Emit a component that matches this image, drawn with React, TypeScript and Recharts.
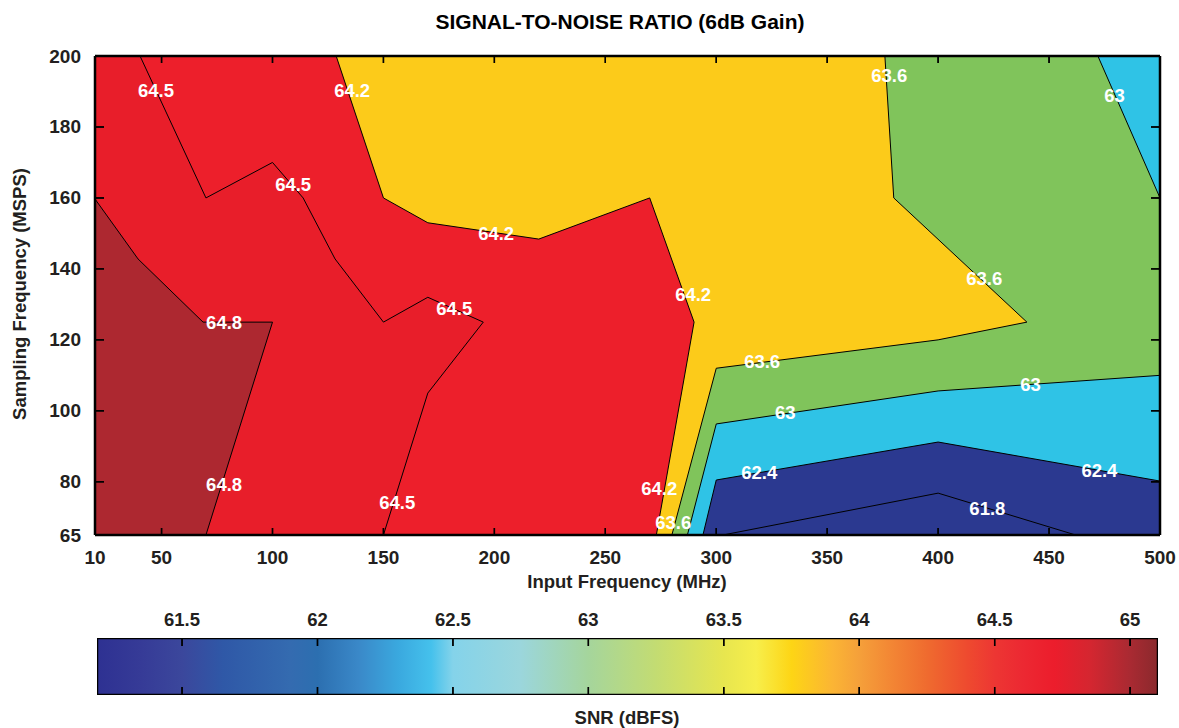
import React from "react";
import { ScatterChart, Scatter, XAxis, YAxis, CartesianGrid } from "recharts";

type Pt = { x: number; y: number };

const FONT = "'Liberation Sans', Arial, Helvetica, sans-serif";
const INK = "#231f20";

// axis ranges (the left edge of the input-frequency scale is labelled 10)
const X_MIN = 20;
const X_MAX = 500;
const Y_MIN = 65;
const Y_MAX = 200;
const xTicks = [20, 50, 100, 150, 200, 250, 300, 350, 400, 450, 500];
const xTickText: Record<number, string> = { 20: "10" };
const yTicks = [65, 80, 100, 120, 140, 160, 180, 200];

// contour lines (MHz, MSPS)
const c648: Pt[] = [
  { x: 20, y: 159.7 }, { x: 39.4, y: 142.8 }, { x: 68.7, y: 125 }, { x: 100, y: 125 }, { x: 70, y: 65 },
];
const c645: Pt[] = [
  { x: 40.3, y: 200 }, { x: 70, y: 160 }, { x: 100, y: 170 }, { x: 113.8, y: 160 }, { x: 128.2, y: 142.8 },
  { x: 150, y: 125 }, { x: 170, y: 132 }, { x: 195, y: 125 }, { x: 170, y: 105 }, { x: 150, y: 65 },
];
const c642: Pt[] = [
  { x: 128.7, y: 200 }, { x: 150, y: 160 }, { x: 170, y: 153 }, { x: 220, y: 148.4 }, { x: 270, y: 160 },
  { x: 290, y: 125 }, { x: 273, y: 65 },
];
const c636: Pt[] = [
  { x: 376, y: 200 }, { x: 380, y: 160 }, { x: 440, y: 125 }, { x: 400, y: 120 }, { x: 300, y: 112 }, { x: 280, y: 65 },
];
const c63Top: Pt[] = [{ x: 472, y: 200 }, { x: 500, y: 160 }];
const c63Low: Pt[] = [{ x: 500, y: 110 }, { x: 400, y: 105.6 }, { x: 300, y: 96.3 }, { x: 287, y: 65 }];
const c624: Pt[] = [{ x: 500, y: 80.2 }, { x: 400, y: 91.2 }, { x: 300, y: 80.5 }, { x: 294, y: 65 }];
const c618: Pt[] = [{ x: 303, y: 65 }, { x: 400, y: 76.8 }, { x: 462, y: 65 }];

const contourLabels = [
  { x: 47.5, y: 190.4, text: "64.5" },
  { x: 109.3, y: 163.9, text: "64.5" },
  { x: 181.9, y: 128.7, text: "64.5" },
  { x: 156.2, y: 74.3, text: "64.5" },
  { x: 135.9, y: 190.4, text: "64.2" },
  { x: 200.8, y: 150.1, text: "64.2" },
  { x: 289.6, y: 132.9, text: "64.2" },
  { x: 274.3, y: 78.2, text: "64.2" },
  { x: 378, y: 194.6, text: "63.6" },
  { x: 420.8, y: 137.4, text: "63.6" },
  { x: 320.7, y: 113.8, text: "63.6" },
  { x: 280.6, y: 68.4, text: "63.6" },
  { x: 479.5, y: 189, text: "63" },
  { x: 441.6, y: 107.3, text: "63" },
  { x: 331.1, y: 99.4, text: "63" },
  { x: 319.4, y: 82.5, text: "62.4" },
  { x: 472.7, y: 83.3, text: "62.4" },
  { x: 422.2, y: 72.6, text: "61.8" },
  { x: 78.2, y: 125, text: "64.8" },
  { x: 78.2, y: 79.1, text: "64.8" },
];

// colour bar
const CB_MIN = 61.186;
const CB_MAX = 65.103;
const cbTicks = [61.5, 62, 62.5, 63, 63.5, 64, 64.5, 65];
const cbStops: [number, string][] = [
  [61.19, "#2e3192"], [61.35, "#363b97"], [61.5, "#3b479c"], [61.65, "#2f58a7"], [61.9, "#346bb0"],
  [62.0, "#2c6fb0"], [62.15, "#3a88c8"], [62.3, "#3aa9df"], [62.42, "#45c1ec"], [62.5, "#84d3ea"],
  [62.75, "#9bd6dc"], [63.0, "#a5d59c"], [63.25, "#c3dc72"], [63.5, "#e7e64f"], [63.62, "#f7ee4b"],
  [63.75, "#fdd515"], [63.9, "#fbb534"], [64.0, "#f5a03a"], [64.1, "#f38a35"], [64.25, "#ef6b2f"],
  [64.4, "#ee4a2f"], [64.5, "#ed3633"], [64.6, "#ec2932"], [64.72, "#ec1d2c"], [64.85, "#d52630"],
  [65.0, "#a92a32"], [65.103, "#8a292d"],
];

const corner = (x: number, y: number): Pt => ({ x, y });
const regionAbove624 = [corner(X_MIN, Y_MIN), corner(X_MIN, Y_MAX), corner(X_MAX, Y_MAX), ...c624];
const regionAbove63 = [corner(X_MIN, Y_MIN), corner(X_MIN, Y_MAX), ...c63Top, ...c63Low];
const regionAbove636 = [corner(X_MIN, Y_MIN), corner(X_MIN, Y_MAX), ...c636];
const regionAbove642 = [corner(X_MIN, Y_MIN), corner(X_MIN, Y_MAX), ...c642];
const regionAbove645 = [corner(X_MIN, Y_MIN), corner(X_MIN, Y_MAX), ...c645];
const regionAbove648 = [corner(X_MIN, Y_MIN), ...c648];
// colour bar outline, in its own scale (value x 0..1)
const cbBox = [corner(CB_MIN, 0), corner(CB_MIN, 1), corner(CB_MAX, 1), corner(CB_MAX, 0), corner(CB_MIN, 0)];

// inward tick marks: one path per side that runs along the frame and juts in at each tick
const vTicks = (vals: number[], base: number, len: number): Pt[] =>
  vals.flatMap((v) => [corner(v, base), corner(v, base + len), corner(v, base)]);
const hTicks = (vals: number[], base: number, len: number): Pt[] =>
  vals.flatMap((v) => [corner(base, v), corner(base + len, v), corner(base, v)]);
const TICK_IN_Y = 1.97; // ~7px in MSPS units
const TICK_IN_X = 4.06; // ~9px in MHz units
const CB_TICK_IN = 0.14; // ~8px of the bar height

const Blank = () => <g />;

const XTick = (p: any) => (
  <text x={p.x} y={p.y} textAnchor="middle" dominantBaseline="central" fontFamily={FONT} fontWeight="bold" fontSize={19} fill={INK}>
    {xTickText[p.payload.value] ?? String(p.payload.value)}
  </text>
);

const YTick = (p: any) => (
  <text x={p.x} y={p.y} textAnchor="end" dominantBaseline="central" fontFamily={FONT} fontWeight="bold" fontSize={19} fill={INK}>
    {p.payload.value}
  </text>
);

const CbTick = (p: any) => (
  <text x={p.x} y={p.y} textAnchor="middle" dominantBaseline="central" fontFamily={FONT} fontWeight="bold" fontSize={18.5} fill={INK}>
    {p.payload.value}
  </text>
);

const LabelMark = (p: any) => (
  <text x={p.cx} y={p.cy} textAnchor="middle" dominantBaseline="central" fontFamily={FONT} fontWeight="bold" fontSize={18.5} fill="#fff">
    {p.payload.text}
  </text>
);

const edge = { stroke: "#000", strokeWidth: 2.5 };
const tickMark = { stroke: "#000", strokeWidth: 1.4 };
// lift the axes above the filled regions where recharts supports it
const AXIS_Z: any = { zIndex: 1500 };

const Region = (data: Pt[], fill: string, strokeWidth = 1) => (
  <Scatter
    data={data}
    line={{ stroke: "#000", strokeWidth, fill }}
    lineType="joint"
    shape={Blank}
    isAnimationActive={false}
  />
);

const textStyle: React.CSSProperties = {
  position: "absolute",
  fontFamily: FONT,
  fontWeight: "bold",
  whiteSpace: "nowrap",
  lineHeight: 1,
};

export default function App() {
  return (
    <div style={{ position: "absolute", left: 0, top: 0, width: 1179, height: 728, background: "#fff", overflow: "hidden" }}>
      <div style={{ ...textStyle, left: 620, top: 21, fontSize: 21, color: "#000", transform: "translate(-50%, -50%)" }}>
        SIGNAL-TO-NOISE RATIO (6dB Gain)
      </div>
      <div style={{ ...textStyle, left: 20, top: 294, fontSize: 18.5, color: INK, transform: "translate(-50%, -50%) rotate(-90deg)" }}>
        Sampling Frequency (MSPS)
      </div>
      <div style={{ ...textStyle, left: 627, top: 582, fontSize: 18.5, color: INK, transform: "translate(-50%, -50%)" }}>
        Input Frequency (MHz)
      </div>
      <div style={{ ...textStyle, left: 627, top: 718, fontSize: 18.5, color: INK, transform: "translate(-50%, -50%)" }}>
        SNR (dBFS)
      </div>

      <div style={{ position: "absolute", left: 0, top: 0 }}>
        <ScatterChart width={1179} height={600} margin={{ top: 0, right: 0, bottom: 0, left: 0 }}>
          <CartesianGrid horizontal={false} vertical={false} fill="#2b3990" fillOpacity={1} />
          <XAxis
            {...AXIS_Z}
            type="number" dataKey="x" domain={[X_MIN, X_MAX]} allowDataOverflow ticks={xTicks} interval={0}
            height={65} tickSize={-7} tickMargin={29} tick={XTick} axisLine={edge} tickLine={tickMark}
          />
          <XAxis
            {...AXIS_Z}
            xAxisId="t" orientation="top" type="number" dataKey="x" domain={[X_MIN, X_MAX]} allowDataOverflow
            ticks={xTicks} interval={0} height={56} tickSize={-7} tick={Blank} axisLine={edge} tickLine={tickMark}
          />
          <YAxis
            {...AXIS_Z}
            type="number" dataKey="y" domain={[Y_MIN, Y_MAX]} allowDataOverflow ticks={yTicks} interval={0}
            width={95} tickSize={-9} tickMargin={23} tick={YTick} axisLine={edge} tickLine={tickMark}
          />
          <YAxis
            {...AXIS_Z}
            yAxisId="r" orientation="right" type="number" dataKey="y" domain={[Y_MIN, Y_MAX]} allowDataOverflow
            ticks={yTicks} interval={0} width={19} tickSize={-9} tick={Blank} axisLine={edge} tickLine={tickMark}
          />
          {Region(regionAbove624, "#2fc3e6")}
          {Region(regionAbove63, "#80c45b")}
          {Region(regionAbove636, "#fccb1a")}
          {Region(regionAbove642, "#ed1f2b")}
          {Region(regionAbove645, "#e81e2a")}
          {Region(regionAbove648, "#ad2830")}
          {Region(c618, "none")}
          {Region(vTicks(xTicks, Y_MIN, TICK_IN_Y), "none", 1.4)}
          {Region(vTicks(xTicks, Y_MAX, -TICK_IN_Y), "none", 1.4)}
          {Region(hTicks(yTicks, X_MIN, TICK_IN_X), "none", 1.4)}
          {Region(hTicks(yTicks, X_MAX, -TICK_IN_X), "none", 1.4)}
          <Scatter data={contourLabels} xAxisId="t" yAxisId="r" shape={LabelMark} isAnimationActive={false} />
        </ScatterChart>
      </div>

      <div style={{ position: "absolute", left: 0, top: 600 }}>
        <ScatterChart width={1179} height={128} margin={{ top: 0, right: 21, bottom: 0, left: 97 }}>
          <defs>
            <linearGradient id="snrScale" x1="0" y1="0" x2="1" y2="0">
              {cbStops.map(([v, c]) => (
                <stop key={v} offset={(v - CB_MIN) / (CB_MAX - CB_MIN)} stopColor={c} />
              ))}
            </linearGradient>
          </defs>
          <XAxis
            {...AXIS_Z}
            orientation="top" type="number" dataKey="x" domain={[CB_MIN, CB_MAX]} allowDataOverflow ticks={cbTicks}
            interval={0} height={38} tickSize={-8} tickMargin={27} tick={CbTick} axisLine={false} tickLine={tickMark}
          />
          <XAxis
            {...AXIS_Z}
            xAxisId="b" orientation="bottom" type="number" dataKey="x" domain={[CB_MIN, CB_MAX]} allowDataOverflow
            ticks={cbTicks} interval={0} height={33} tickSize={-8} tick={Blank} axisLine={false} tickLine={tickMark}
          />
          <YAxis hide type="number" dataKey="y" domain={[0, 1]} allowDataOverflow />
          {Region(cbBox, "url(#snrScale)", 2.5)}
          {Region(vTicks(cbTicks, 0, CB_TICK_IN), "none", 1.4)}
          {Region(vTicks(cbTicks, 1, -CB_TICK_IN), "none", 1.4)}
        </ScatterChart>
      </div>
    </div>
  );
}
